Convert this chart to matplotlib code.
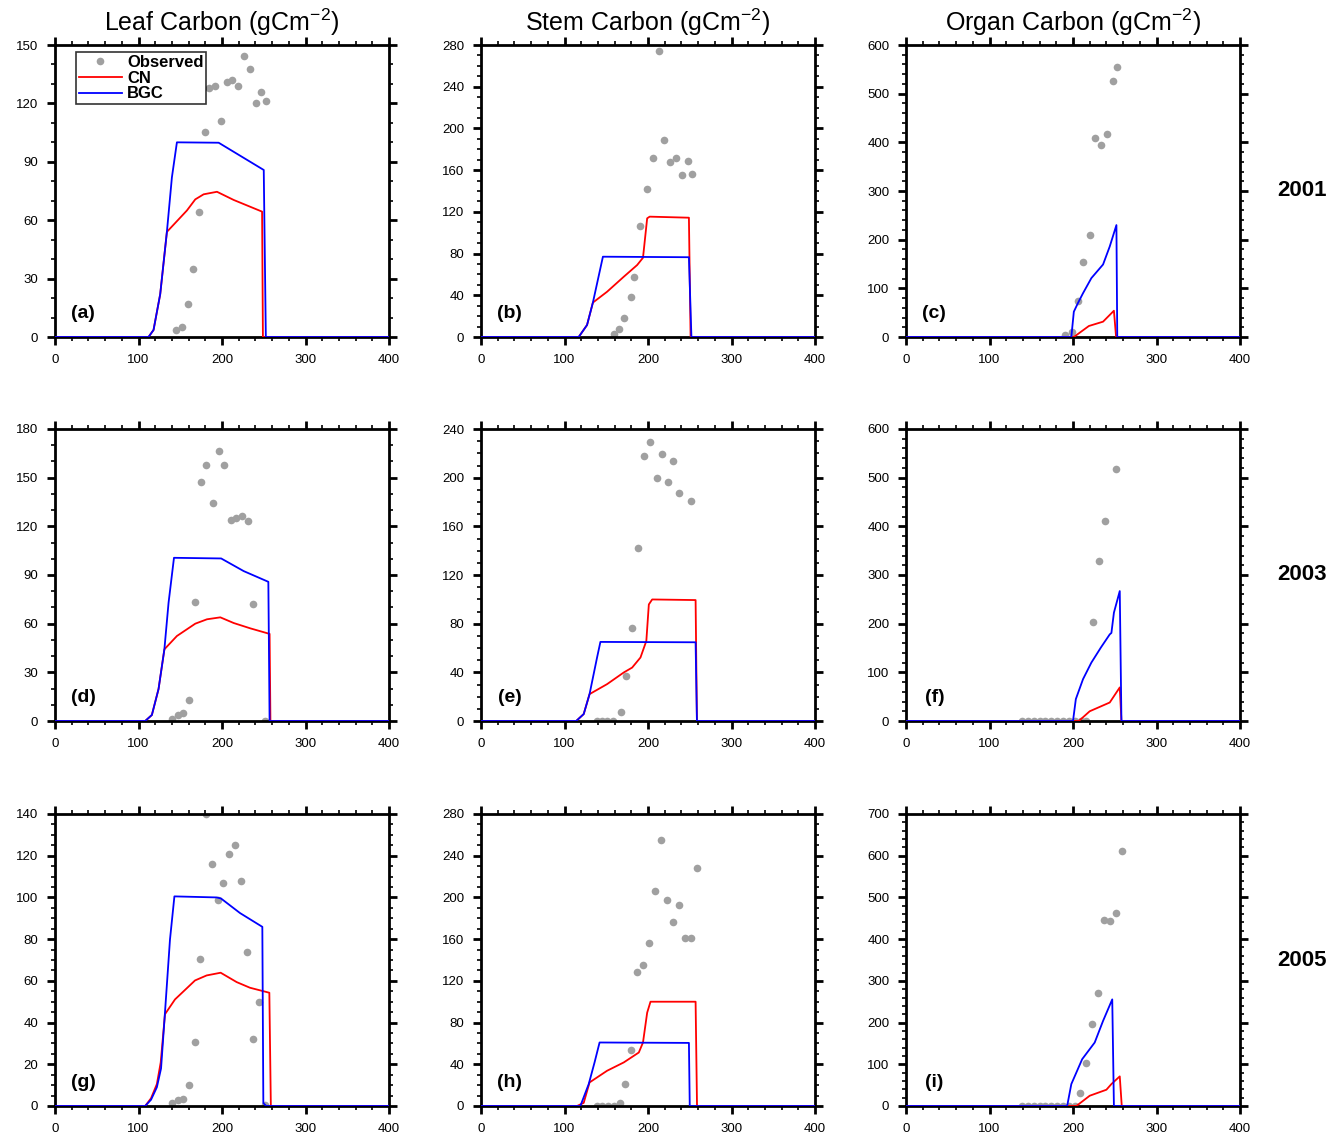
import matplotlib
matplotlib.use("Agg")
import matplotlib.pyplot as plt
from matplotlib.ticker import MultipleLocator

plt.rcParams['font.family'] = ['Liberation Sans', 'DejaVu Sans']
plt.rcParams['mathtext.fontset'] = 'custom'
plt.rcParams['mathtext.rm'] = 'Liberation Sans'
plt.rcParams['mathtext.default'] = 'regular'

col_titles = ["Leaf Carbon (gCm$^{-2}$)", "Stem Carbon (gCm$^{-2}$)", "Organ Carbon (gCm$^{-2}$)"]
row_years = ["2001", "2003", "2005"]
panel_tags = ["(a)", "(b)", "(c)", "(d)", "(e)", "(f)", "(g)", "(h)", "(i)"]

# observed (day of year, value)
obs_a_x = [144.6, 151.7, 159.6, 165.6, 172.8, 179.6, 184.8, 191.6, 198.8, 205.6, 212.3, 219.5, 226.7, 233.5, 240.4, 246.7, 252.7]
obs_a_y = [3.6, 5.3, 16.8, 34.8, 64.1, 105.3, 127.8, 128.9, 111.1, 131.1, 131.9, 129.1, 144.2, 137.5, 120.0, 125.9, 121.2]
obs_b_x = [158.9, 165.4, 171.8, 179.4, 183.8, 191.0, 198.6, 205.4, 212.6, 219, 226.2, 233.4, 240.2, 247.4, 252.3]
obs_b_y = [2.9, 7.3, 18.5, 38.1, 57.8, 106.4, 141.9, 171.9, 274.5, 188.6, 168.1, 171.9, 155.0, 169.1, 156.6]
obs_c_x = [191, 199, 205.8, 212.2, 219.8, 226.7, 233.4, 240.6, 247.5, 252.6]
obs_c_y = [4.1, 9.6, 74, 154.8, 209.6, 408.2, 393.8, 417.8, 526.7, 555.4]
obs_d_x = [139.7, 147.7, 153.7, 160.9, 167.7, 174.5, 181.2, 188.9, 196, 202.4, 210.4, 216.8, 223.6, 230.7, 237.5, 251.9]
obs_d_y = [1.2, 3.9, 4.7, 13.1, 73.3, 147.6, 157.7, 134.5, 166.3, 157.5, 123.7, 125.3, 126.1, 123.1, 71.9, 0.2]
obs_e_x = [139, 145.4, 151.4, 158.6, 167.4, 174.2, 181.4, 188.6, 195, 202.2, 210.2, 216.2, 223.4, 229.8, 237, 251.1]
obs_e_y = [0.2, 0.2, 0.2, 0.2, 7.1, 37.1, 76.4, 142.5, 218.1, 229.6, 199.4, 219.5, 196.1, 214.1, 187.1, 181.1]
obs_f_x = [139, 146, 153, 160, 167, 174, 181, 188, 195, 202, 209, 216, 223.4, 230.6, 238.2, 251.9]
obs_f_y = [0, 0, 0, 0, 0, 0, 0, 0, 0, 0, 0, 0, 203.4, 329.1, 411.6, 518.1]
obs_g_x = [140.5, 147.7, 153.7, 160.9, 167.7, 173.7, 180.4, 187.6, 194.8, 201.6, 208.8, 216, 222.8, 230.3, 237.5, 244.7, 251.5]
obs_g_y = [1.4, 2.9, 3.3, 10.2, 30.7, 70.6, 140, 115.8, 98.6, 106.7, 120.7, 125.2, 107.7, 73.6, 32.3, 49.7, 0.5]
obs_h_x = [139, 145, 152, 159, 167, 173, 180.2, 187.4, 194.2, 201, 208.2, 215.4, 222.2, 229.8, 237, 244.2, 251.4, 258.6]
obs_h_y = [0, 0, 0, 0, 2.9, 21, 53.8, 128.3, 135.4, 156.1, 205.8, 254.9, 197.2, 176.1, 192.4, 161.2, 161.2, 228.1]
obs_i_x = [139, 146, 153, 160, 167, 174, 181, 188, 195, 202, 208.4, 215.6, 222.4, 230.4, 237.3, 244, 251.6, 258.4]
obs_i_y = [0, 0, 0, 0, 0, 0, 0, 0, 0, 0, 31, 102.7, 197.5, 271.6, 446, 442.7, 463.5, 611.6]

# CN model
cn_a_x = [0, 112, 118, 126, 130, 134, 158, 168, 178, 194, 214, 248, 249, 400]
cn_a_y = [0, 0, 3.6, 22, 38, 54, 65, 70.7, 73.3, 74.6, 70.4, 64.4, 0, 0]
cn_b_x = [0, 117, 127, 134, 151, 171, 187, 194, 199, 202, 249, 251, 400]
cn_b_y = [0, 0, 11.5, 33, 43.4, 57.8, 69, 76, 113.8, 115.4, 114.4, 0, 0]
cn_c_x = [0, 201, 219, 236, 249, 251.6, 400]
cn_c_y = [0, 0, 22.6, 31.5, 54, 0, 0]
cn_d_x = [0, 108, 116, 124, 131, 146, 168, 182, 198, 214, 234, 257, 258, 400]
cn_d_y = [0, 0, 3.7, 19.7, 44.2, 52.4, 60, 62.7, 63.9, 60.4, 57.1, 53.7, 0, 0]
cn_e_x = [0, 114, 123, 130, 151, 171, 181, 191, 198, 201, 205, 257, 258.6, 400]
cn_e_y = [0, 0, 5.7, 22.1, 30.3, 39.9, 43.9, 52.2, 65.8, 95.8, 99.9, 99.4, 0, 0]
cn_f_x = [0, 207, 220, 244, 256, 258, 400]
cn_f_y = [0, 0, 20, 38, 69, 0, 0]
cn_g_x = [0, 108, 115, 122, 126.6, 131.7, 143.7, 167.7, 181.6, 198.4, 217.6, 233.5, 256.7, 258.5, 400]
cn_g_y = [0, 0, 3.7, 10.5, 20.9, 44, 51.1, 60.2, 62.6, 63.9, 59.4, 56.7, 54.3, 0, 0]
cn_h_x = [0, 115, 123, 130, 151, 171, 189, 194, 199, 203, 257, 258.7, 400]
cn_h_y = [0, 0, 3, 22.6, 33.8, 41.8, 51.3, 60.9, 89.5, 100, 100, 0, 0]
cn_i_x = [0, 204, 220, 240, 246, 256, 258.4, 400]
cn_i_y = [0, 0, 24.6, 39, 52.6, 71, 0, 0]

# BGC model
bgc_a_x = [0, 112, 118, 126, 130, 134, 140, 146, 196, 250, 252.5, 400]
bgc_a_y = [0, 0, 3.6, 22, 38, 54, 82, 100, 99.8, 85.8, 0, 0]
bgc_b_x = [0, 117, 127, 134, 146, 249, 252, 400]
bgc_b_y = [0, 0, 11.5, 33, 77, 76.5, 0, 0]
bgc_c_x = [0, 198, 201, 206, 212, 222, 236, 244, 252, 253, 400]
bgc_c_y = [0, 0, 52, 70, 90, 121, 149, 186, 230, 0, 0]
bgc_d_x = [0, 108, 116, 124, 131, 136, 142.5, 199, 226, 255.5, 257, 400]
bgc_d_y = [0, 0, 3.7, 19.7, 44.2, 72.9, 100.6, 100.2, 92.4, 85.8, 0, 0]
bgc_e_x = [0, 114, 123, 130, 139, 143, 257, 258.6, 400]
bgc_e_y = [0, 0, 5.7, 22.1, 52.2, 65, 64.7, 0, 0]
bgc_f_x = [0, 200, 203.4, 212, 222, 233.4, 244, 246, 249, 256, 258, 400]
bgc_f_y = [0, 0, 45, 86, 120, 151, 178, 181, 222.6, 267, 0, 0]
bgc_g_x = [0, 108, 115, 122, 127, 131.7, 137.7, 143, 193.6, 198.8, 221.6, 248.3, 249.5, 253, 400]
bgc_g_y = [0, 0, 3, 9, 18, 44.8, 79.8, 100.5, 100, 99.5, 92.5, 85.9, 1.4, 0, 0]
bgc_h_x = [0, 119, 129, 136, 142, 249, 250, 400]
bgc_h_y = [0, 0, 21, 41.8, 60.9, 60.5, 0, 0]
bgc_i_x = [0, 193, 198, 211, 226, 236, 247, 249, 400]
bgc_i_y = [0, 0, 52.6, 112.3, 152.2, 204, 255.6, 0, 0]

obs_x = [obs_a_x, obs_b_x, obs_c_x, obs_d_x, obs_e_x, obs_f_x, obs_g_x, obs_h_x, obs_i_x]
obs_y = [obs_a_y, obs_b_y, obs_c_y, obs_d_y, obs_e_y, obs_f_y, obs_g_y, obs_h_y, obs_i_y]
cn_x = [cn_a_x, cn_b_x, cn_c_x, cn_d_x, cn_e_x, cn_f_x, cn_g_x, cn_h_x, cn_i_x]
cn_y = [cn_a_y, cn_b_y, cn_c_y, cn_d_y, cn_e_y, cn_f_y, cn_g_y, cn_h_y, cn_i_y]
bgc_x = [bgc_a_x, bgc_b_x, bgc_c_x, bgc_d_x, bgc_e_x, bgc_f_x, bgc_g_x, bgc_h_x, bgc_i_x]
bgc_y = [bgc_a_y, bgc_b_y, bgc_c_y, bgc_d_y, bgc_e_y, bgc_f_y, bgc_g_y, bgc_h_y, bgc_i_y]

# y axis range / tick spacing per panel
ymax = [150, 280, 600, 180, 240, 600, 140, 280, 700]
ymajor = [30, 40, 100, 30, 40, 100, 20, 40, 100]
yminor = [10, 10, 20, 10, 10, 20, 5, 10, 20]

fig = plt.figure(figsize=(13.37, 11.37), dpi=100)

lefts = [55, 481, 906]
tops = [45, 429, 814]
W, H = 1337.0, 1137.0
aw, ah = 334, 292

for k in range(9):
    r, c = k // 3, k % 3
    ax = fig.add_axes([lefts[c] / W, 1 - (tops[r] + ah) / H, aw / W, ah / H])
    ax.plot(obs_x[k], obs_y[k], 'o', color='#a0a0a0', markersize=5.5,
            markeredgewidth=0, label='Observed', zorder=2)
    ax.plot(cn_x[k], cn_y[k], color='red', lw=1.3, label='CN', zorder=3)
    ax.plot(bgc_x[k], bgc_y[k], color='blue', lw=1.3, label='BGC', zorder=3)
    ax.set_xlim(0, 400)
    ax.set_ylim(0, ymax[k])
    ax.xaxis.set_major_locator(MultipleLocator(100))
    ax.xaxis.set_minor_locator(MultipleLocator(20))
    ax.yaxis.set_major_locator(MultipleLocator(ymajor[k]))
    ax.yaxis.set_minor_locator(MultipleLocator(yminor[k]))
    ax.tick_params(which='both', direction='out', top=True, right=True,
                   labelsize=9.5, pad=6)
    ax.tick_params(which='major', length=6, width=2)
    ax.tick_params(which='minor', length=3, width=1.2)
    for s in ax.spines.values():
        s.set_linewidth(2)
    ax.text(0.085, 0.082, panel_tags[k], transform=ax.transAxes, fontsize=14,
            fontweight='bold', ha='center', va='center')
    if k == 0:
        leg = ax.legend(loc='upper left', bbox_to_anchor=(0.063, 0.975),
                        fontsize=12, frameon=True, fancybox=False,
                        borderpad=0.15, labelspacing=0.05, handlelength=2.6,
                        handletextpad=0.3, borderaxespad=0)
        leg.get_frame().set_edgecolor('black')
        leg.get_frame().set_linewidth(1.2)
        for t in leg.get_texts():
            t.set_fontweight('bold')

for c in range(3):
    fig.text((lefts[c] + aw / 2) / W, 1 - 22 / H, col_titles[c], fontsize=18,
             ha='center', va='center')
for r in range(3):
    fig.text(1277 / W, 1 - (tops[r] + ah / 2) / H, row_years[r], fontsize=16,
             fontweight='bold', ha='left', va='center')

fig.savefig("out.png", dpi=100)
